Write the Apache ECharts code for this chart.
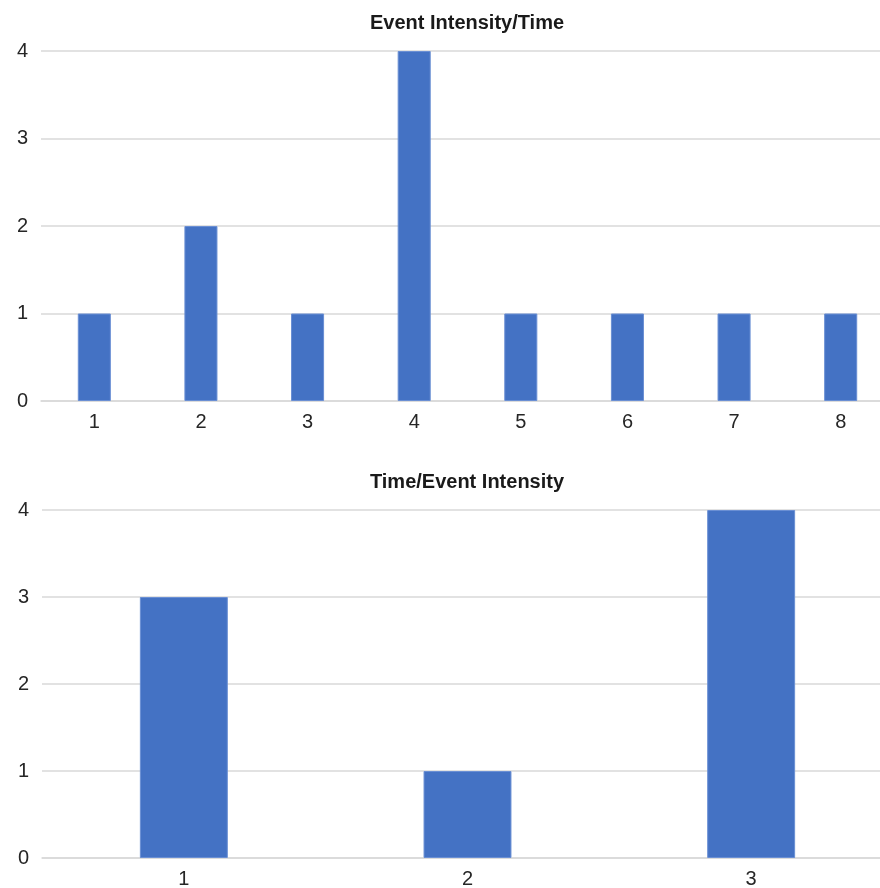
<!DOCTYPE html>
<html>
<head>
<meta charset="utf-8">
<script src="https://cdn.jsdelivr.net/npm/echarts@6/dist/echarts.min.js"></script>
<style>
  html, body { margin: 0; padding: 0; background: #fff; overflow: hidden; }
  #echart { width: 880px; height: 888px; }
</style>
</head>
<body>
<div id="echart"></div>
<script>
// top chart: event intensity per time step
const timeSteps = ["1", "2", "3", "4", "5", "6", "7", "8"];
const intensityByTime = [1, 2, 1, 4, 1, 1, 1, 1];

// bottom chart: time per event intensity
const intensityLevels = ["1", "2", "3"];
const timeByIntensity = [3, 1, 4];

const yTicks = [0, 1, 2, 3, 4];

const barColor = "#4472c4";
const gridColor = "#d9d9d9";
const labelColor = "#262626";

function makeY(idx) {
  return {
    type: "value",
    gridIndex: idx,
    min: yTicks[0],
    max: yTicks[yTicks.length - 1],
    interval: 1,
    axisLine: { show: false },
    axisTick: { show: false },
    axisLabel: { color: labelColor, fontSize: 20, margin: 13, fontFamily: "Liberation Sans" },
    splitLine: { lineStyle: { color: gridColor, width: 1.5 } },
  };
}

function makeX(idx, cats) {
  return {
    type: "category",
    gridIndex: idx,
    data: cats,
    axisLine: { lineStyle: { color: gridColor, width: 1.5 } },
    axisTick: { show: false },
    axisLabel: { color: labelColor, fontSize: 20, margin: 11, fontFamily: "Liberation Sans" },
  };
}

const titleStyle = { fontSize: 20, fontWeight: "bold", color: "#1a1a1a", fontFamily: "Liberation Sans" };

const chart = echarts.init(document.getElementById("echart"));
chart.setOption({
  animation: false,
  title: [
    { text: "Event Intensity/Time", left: 462, top: 8, textAlign: "center", textStyle: titleStyle },
    { text: "Time/Event Intensity", left: 462, top: 467, textAlign: "center", textStyle: titleStyle },
  ],
  grid: [
    // plot area runs past the right edge of the picture, as in the reference
    { left: 41, width: 853, top: 51, height: 350, outerBoundsMode: "none" },
    { left: 42, width: 851, top: 510, height: 348, outerBoundsMode: "none" },
  ],
  xAxis: [makeX(0, timeSteps), makeX(1, intensityLevels)],
  yAxis: [makeY(0), makeY(1)],
  series: [
    {
      type: "bar",
      xAxisIndex: 0,
      yAxisIndex: 0,
      data: intensityByTime,
      barWidth: "31%",
      itemStyle: { color: barColor, borderColor: "#6a8fd4", borderWidth: 1 },
    },
    {
      type: "bar",
      xAxisIndex: 1,
      yAxisIndex: 1,
      data: timeByIntensity,
      barWidth: "31%",
      itemStyle: { color: barColor, borderColor: "#6a8fd4", borderWidth: 1 },
    },
  ],
});
</script>
</body>
</html>
